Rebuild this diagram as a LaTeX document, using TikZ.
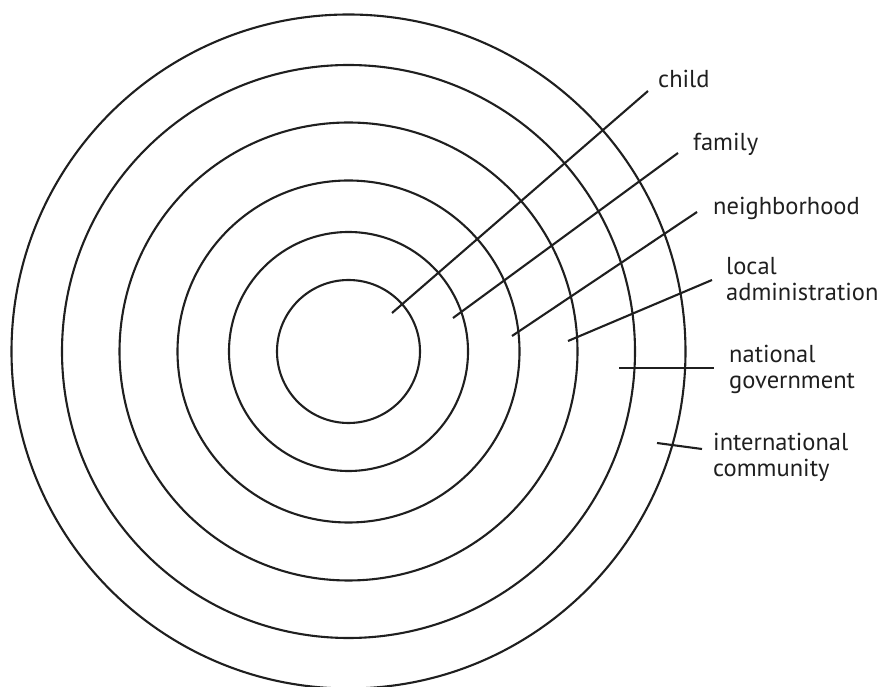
\documentclass[tikz,border=0pt]{standalone}
\usepackage{fontspec}
\setmainfont{PT Sans}
\begin{document}
\begin{tikzpicture}[x=1pt,y=1pt,
  ring/.style={line width=2.1pt, draw=black!88},
  leader/.style={line width=2.1pt, draw=black!88},
  lbl/.style={anchor=base west, inner sep=0pt, align=left, font=\fontsize{24.5}{26}\selectfont, text=black!88}]
\useasboundingbox (0,0) rectangle (884,686);
\coordinate (c) at (348.5,334.5);
\foreach \r in {71.5,119.5,171,229,286.5,337} \draw[ring] (c) circle[radius=\r];
% leader ends
\coordinate (a1) at (392,373); \coordinate (b1) at (648,595);
\coordinate (a2) at (453,368); \coordinate (b2) at (678,533);
\coordinate (a3) at (512,350); \coordinate (b3) at (697,474);
\coordinate (a4) at (568,345); \coordinate (b4) at (712,406);
\coordinate (a5) at (619,318); \coordinate (b5) at (714,318);
\coordinate (a6) at (657,243); \coordinate (b6) at (702,237);
\draw[leader] (a1) -- (b1);
\draw[leader] (a2) -- (b2);
\draw[leader] (a3) -- (b3);
\draw[leader] (a4) -- (b4);
\draw[leader] (a5) -- (b5);
\draw[leader] (a6) -- (b6);
\node[lbl] (t1) at (658,598) {child};
\node[lbl] (t2) at (693,535) {family};
\node[lbl] (t3) at (713,471) {neighborhood};
\node[lbl] (t4) at (726,385) {local\\administration};
\node[lbl] (t5) at (729,297) {national\\government};
\node[lbl] (t6) at (713,209) {international\\community};
\end{tikzpicture}
\end{document}
